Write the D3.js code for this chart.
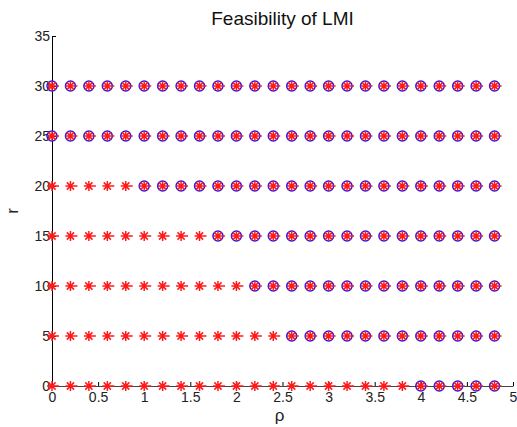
<!DOCTYPE html>
<html>
<head>
<meta charset="utf-8">
<script src="https://cdn.jsdelivr.net/npm/d3@7"></script>
<style>
  body { margin: 0; background: #fff; }
  text { font-family: "Liberation Sans", Arial, sans-serif; }
</style>
</head>
<body>
<svg id="chart" width="517" height="427"></svg>
<script>
// rho grid and r levels tested
const rhoValues = [0, 0.2, 0.4, 0.6, 0.8, 1.0, 1.2, 1.4, 1.6, 1.8, 2.0, 2.2, 2.4,
                   2.6, 2.8, 3.0, 3.2, 3.4, 3.6, 3.8, 4.0, 4.2, 4.4, 4.6, 4.8];
const rLevels = [0, 5, 10, 15, 20, 25, 30];
// smallest rho at which the LMI became feasible, per r level
const feasibleFrom = [4.0, 2.6, 2.2, 1.8, 1.0, 0, 0];

const xTicks = [0, 0.5, 1, 1.5, 2, 2.5, 3, 3.5, 4, 4.5, 5];
const yTicks = [0, 5, 10, 15, 20, 25, 30, 35];

const svg = d3.select('#chart');

const x = d3.scaleLinear().domain([0, 5]).range([52, 513]);
const y = d3.scaleLinear().domain([0, 35]).range([386, 36]);

// all points tested (red stars) and the feasible ones (blue circles)
const allPts = [], feasPts = [];
rLevels.forEach((r, i) => {
  rhoValues.forEach(p => {
    allPts.push([p, r]);
    if (p >= feasibleFrom[i] - 1e-9) feasPts.push([p, r]);
  });
});

// Axes: only left and bottom, ticks pointing inwards
const xAxis = svg.append('g')
  .attr('transform', `translate(0,${y(0)})`)
  .call(d3.axisBottom(x).tickValues(xTicks).tickFormat(d3.format('')).tickSizeInner(-4).tickSizeOuter(0).tickPadding(6));
xAxis.select('.domain').attr('stroke', '#444');

const yAxis = svg.append('g')
  .attr('transform', `translate(${x(0)},0)`)
  .call(d3.axisLeft(y).tickValues(yTicks).tickSizeInner(-4).tickSizeOuter(0).tickPadding(2));

svg.selectAll('.tick text').attr('font-size', 14).attr('fill', '#222')
  .style('font-family', '"Liberation Sans", Arial, sans-serif');

// blue circles
svg.append('g').selectAll('circle')
  .data(feasPts)
  .join('circle')
  .attr('cx', d => x(d[0]))
  .attr('cy', d => y(d[1]))
  .attr('r', 5)
  .attr('fill', 'none')
  .attr('stroke', '#1a1aff')
  .attr('stroke-width', 1.5);

// red stars
const s = 5, t = 3.6;
svg.append('g').selectAll('path')
  .data(allPts)
  .join('path')
  .attr('transform', d => `translate(${x(d[0])},${y(d[1])})`)
  .attr('d', `M${-s},0H${s + 2}M0,${-s}V${s}M${-t},${-t}L${t},${t}M${-t},${t}L${t},${-t}`)
  .attr('fill', 'none')
  .attr('stroke', '#ff1a1a')
  .attr('stroke-width', 1.5);

// Labels
svg.append('text')
  .attr('x', (x(0) + x(5)) / 2).attr('y', 25)
  .attr('text-anchor', 'middle')
  .attr('font-size', 19)
  .attr('fill', '#111')
  .text('Feasibility of LMI');

svg.append('text')
  .attr('x', (x(0) + x(5)) / 2 - 3).attr('y', 421)
  .attr('text-anchor', 'middle')
  .attr('font-size', 17)
  .attr('fill', '#222')
  .text('ρ');

svg.append('text')
  .attr('transform', `translate(18,${y(17.5)}) rotate(-90)`)
  .attr('text-anchor', 'middle')
  .attr('font-size', 17)
  .attr('fill', '#222')
  .text('r');
</script>
</body>
</html>
